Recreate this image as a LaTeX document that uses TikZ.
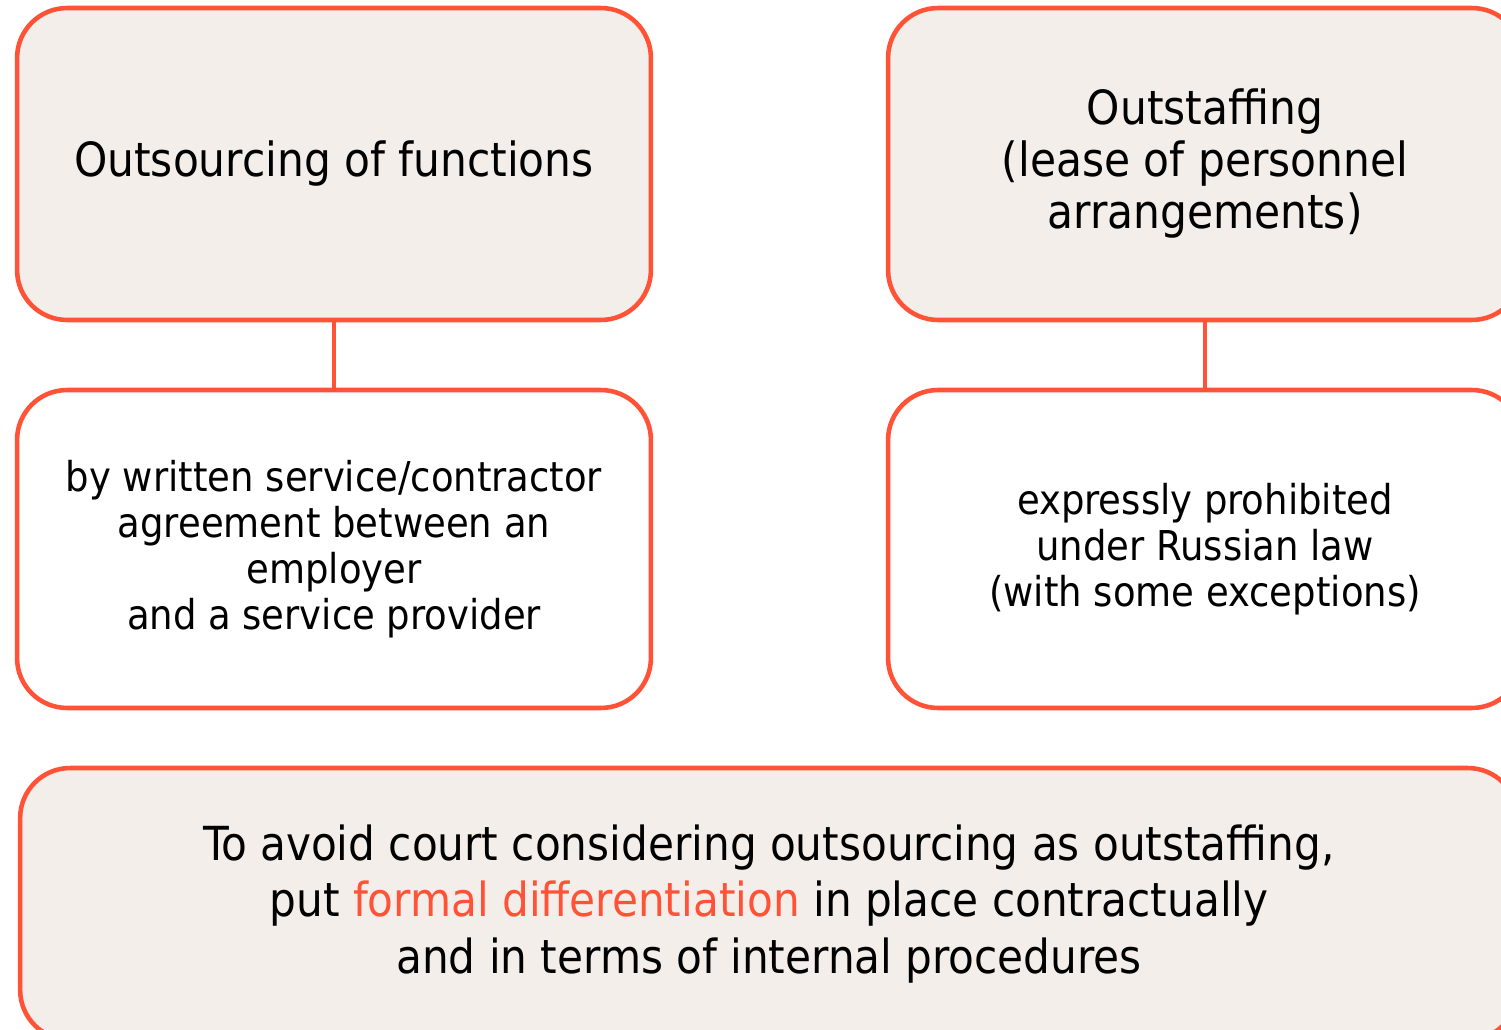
\documentclass[tikz,border=0pt]{standalone}
\usepackage{xcolor}
\usepackage{fontspec}
\setmainfont{DejaVu Sans Condensed}
\usepackage{tikz}
\usetikzlibrary{shapes,arrows}

\definecolor{accent}{HTML}{FF5236}
\definecolor{paper}{HTML}{F3EEEA}

\begin{document}
\begin{tikzpicture}[x=0.02cm,y=-0.02cm,
  box/.style={rectangle,rounded corners=1cm,draw=accent,line width=2.6pt,
    minimum width=12.68cm,minimum height=6.24cm,align=center,inner sep=0pt},
  link/.style={draw=accent,line width=2.6pt}]
\useasboundingbox (0,0) rectangle (1501,1030);

\node [box,fill=paper,font=\fontsize{26.8}{29.6}\selectfont] (v1) at (334,164) {Outsourcing of functions};
\node [box,fill=paper,font=\fontsize{26.8}{29.6}\selectfont] (v2) at (1205,164) {Outstaffing\\(lease of personnel\\arrangements)};
\node [box,fill=white,minimum height=6.36cm,font=\fontsize{23.4}{26.1}\selectfont] (v3) at (334,549) {by written service/contractor\\agreement between an\\employer\\and a service provider};
\node [box,fill=white,minimum height=6.36cm,font=\fontsize{23.4}{26.1}\selectfont] (v4) at (1205,549) {expressly prohibited\\under Russian law\\(with some exceptions)};
\node [box,fill=paper,minimum width=29.96cm,minimum height=5.44cm,font=\fontsize{26.7}{32.3}\selectfont] (v5) at (769,904) {To avoid court considering outsourcing as outstaffing,\\put \textcolor{accent}{formal differentiation} in place contractually\\and in terms of internal procedures};

\draw [link] (v1) -- (v3);
\draw [link] (v2) -- (v4);
\end{tikzpicture}
\end{document}
